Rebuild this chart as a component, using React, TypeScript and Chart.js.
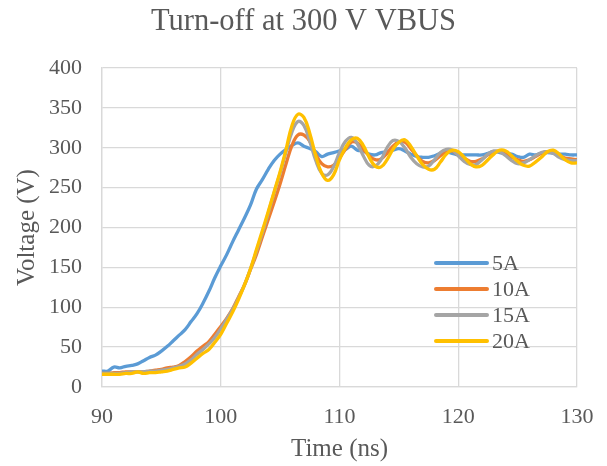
import React, { useEffect, useRef } from "react";
import { Chart, registerables } from "chart.js";

Chart.register(...registerables);

const timeNs: number[] = [];
for (let i = 0; i <= 80; i++) timeNs.push(90 + i * 0.5);

const v5A = [
  20, 20, 25, 24, 26, 27, 29, 33, 37, 40,
  45, 51, 58, 65, 72, 82, 92, 105, 120, 137,
  152, 166, 182, 197, 212, 228, 248, 260, 273, 284,
  292, 298, 303, 306, 302, 299, 295, 289, 292, 294,
  296, 298, 302, 297, 296, 292, 291, 294, 295, 297,
  299, 296, 292, 289, 288, 288, 290, 293, 295, 293,
  291, 291, 291, 291, 291, 293, 295, 294, 292, 292,
  289, 288, 292, 291, 293, 294, 293, 292, 292, 291,
  291,
];

const v10A = [
  17, 17, 18, 18, 19, 19, 19, 19, 20, 21,
  22, 24, 25, 27, 32, 38, 45, 51, 57, 66,
  76, 86, 98, 113, 128, 147, 166, 188, 210, 232,
  255, 280, 303, 316, 316, 308, 292, 280, 276, 278,
  287, 298, 307, 306, 298, 290, 285, 286, 293, 302,
  307, 307, 299, 290, 283, 281, 284, 290, 296, 296,
  291, 287, 283, 283, 286, 291, 295, 295, 292, 288,
  285, 283, 285, 289, 293, 295, 294, 290, 287, 286,
  285,
];

const v15A = [
  17, 17, 17, 17, 18, 19, 19, 19, 20, 20,
  21, 22, 24, 26, 29, 34, 41, 47, 54, 62,
  73, 85, 97, 112, 128, 148, 170, 193, 218, 244,
  268, 295, 320, 333, 328, 308, 284, 268, 266, 276,
  294, 308, 313, 305, 290, 278, 277, 285, 300, 309,
  308, 300, 288, 280, 276, 277, 285, 294, 298, 297,
  290, 283, 279, 279, 285, 292, 296, 295, 290, 284,
  280, 281, 285, 290, 294, 295, 293, 288, 285, 284,
  284,
];

const v20A = [
  16, 16, 16, 16, 17, 17, 19, 17, 18, 18,
  19, 20, 22, 24, 25, 30, 36, 42, 47, 56,
  66, 80, 94, 110, 128, 148, 172, 196, 220, 245,
  270, 298, 328, 342, 338, 318, 290, 268, 259, 266,
  285, 300, 310, 312, 303, 288, 277, 276, 285, 298,
  307, 310, 302, 290, 279, 273, 273, 282, 292, 297,
  295, 288, 280, 276, 278, 285, 292, 297, 296, 290,
  283, 278, 277, 282, 288, 295, 297, 292, 285, 281,
  281,
];

const seriesLabels = ["5A", "10A", "15A", "20A"];
const seriesValues = [v5A, v10A, v15A, v20A];
const seriesColors = ["#5B9BD5", "#ED7D31", "#A5A5A5", "#FFC000"];

const xTicks = { min: 90, max: 130, step: 10 };
const yTicks = { min: 0, max: 400, step: 50 };

const chartTitle = "Turn-off at 300 V VBUS";
const xTitle = "Time (ns)";
const yTitle = "Voltage (V)";

const FONT = "'Liberation Serif', 'Times New Roman', serif";
const TEXT = "#595959";
const GRID = "#D9D9D9";

export default function App() {
  const ref = useRef<HTMLCanvasElement | null>(null);

  useEffect(() => {
    if (!ref.current) return;
    const titlePlugin = {
      id: "customTitle",
      afterDraw(chart: any) {
        const ctx = chart.ctx;
        ctx.save();
        ctx.font = `30.5px ${FONT}`;
        ctx.fillStyle = TEXT;
        ctx.textAlign = "center";
        ctx.textBaseline = "alphabetic";
        ctx.fillText(chartTitle, chart.width / 2, 30);
        ctx.restore();
      },
    };
    const legendPlugin = {
      id: "customLegend",
      afterDraw(chart: any) {
        const ctx = chart.ctx;
        const area = chart.chartArea;
        ctx.save();
        ctx.font = `22px ${FONT}`;
        ctx.textAlign = "left";
        ctx.textBaseline = "middle";
        seriesLabels.forEach((lab, i) => {
          const y = area.top + 195 + i * 26;
          const x0 = area.right - 141;
          ctx.strokeStyle = seriesColors[i];
          ctx.lineWidth = 4;
          ctx.lineCap = "round";
          ctx.beginPath();
          ctx.moveTo(x0, y);
          ctx.lineTo(x0 + 51, y);
          ctx.stroke();
          ctx.fillStyle = TEXT;
          ctx.fillText(lab, x0 + 56, y + 1);
        });
        ctx.restore();
      },
    };

    const chart = new Chart(ref.current, {
      type: "line",
      data: {
        datasets: seriesLabels.map((lab, i) => ({
          label: lab,
          data: timeNs.map((t, j) => ({ x: t, y: seriesValues[i][j] })),
          borderColor: seriesColors[i],
          backgroundColor: seriesColors[i],
          borderWidth: 3.3,
          pointRadius: 0,
          tension: 0.4,
          fill: false,
          order: seriesLabels.length - i,
        })),
      },
      options: {
        animation: false,
        responsive: false,
        maintainAspectRatio: false,
        layout: { padding: { top: 68, right: 30, left: 0, bottom: 0 } },
        plugins: {
          legend: { display: false },
          title: { display: false },
          tooltip: { enabled: false },
        },
        scales: {
          x: {
            type: "linear",
            min: xTicks.min,
            max: xTicks.max,
            afterFit(scale: any) {
              scale.height = 79;
              scale.paddingLeft = 0;
              scale.paddingRight = 0;
            },
            ticks: {
              stepSize: xTicks.step,
              color: TEXT,
              font: { family: FONT, size: 22 },
              padding: 17,
              maxRotation: 0,
            },
            grid: { color: GRID, lineWidth: 1.3, drawTicks: false },
            border: { color: GRID, width: 1.3 },
            title: {
              display: true,
              text: xTitle,
              color: TEXT,
              font: { family: FONT, size: 25 },
              padding: { top: 0, bottom: 2 },
            },
          },
          y: {
            type: "linear",
            min: yTicks.min,
            max: yTicks.max,
            afterFit(scale: any) {
              scale.width = 102;
              scale.paddingTop = 0;
              scale.paddingBottom = 0;
            },
            ticks: {
              stepSize: yTicks.step,
              color: TEXT,
              font: { family: FONT, size: 22 },
              padding: 20,
            },
            grid: { color: GRID, lineWidth: 1.3, drawTicks: false },
            border: { color: GRID, width: 1.3 },
            title: {
              display: true,
              text: yTitle,
              color: TEXT,
              font: { family: FONT, size: 25 },
              padding: { top: 12, bottom: 0 },
            },
          },
        },
      },
      plugins: [titlePlugin, legendPlugin],
    });
    return () => chart.destroy();
  }, []);

  return (
    <div style={{ position: "absolute", left: 0, top: 0, width: 607, height: 466, background: "#fff" }}>
      <canvas ref={ref} width={607} height={466} style={{ width: 607, height: 466 }} />
    </div>
  );
}
